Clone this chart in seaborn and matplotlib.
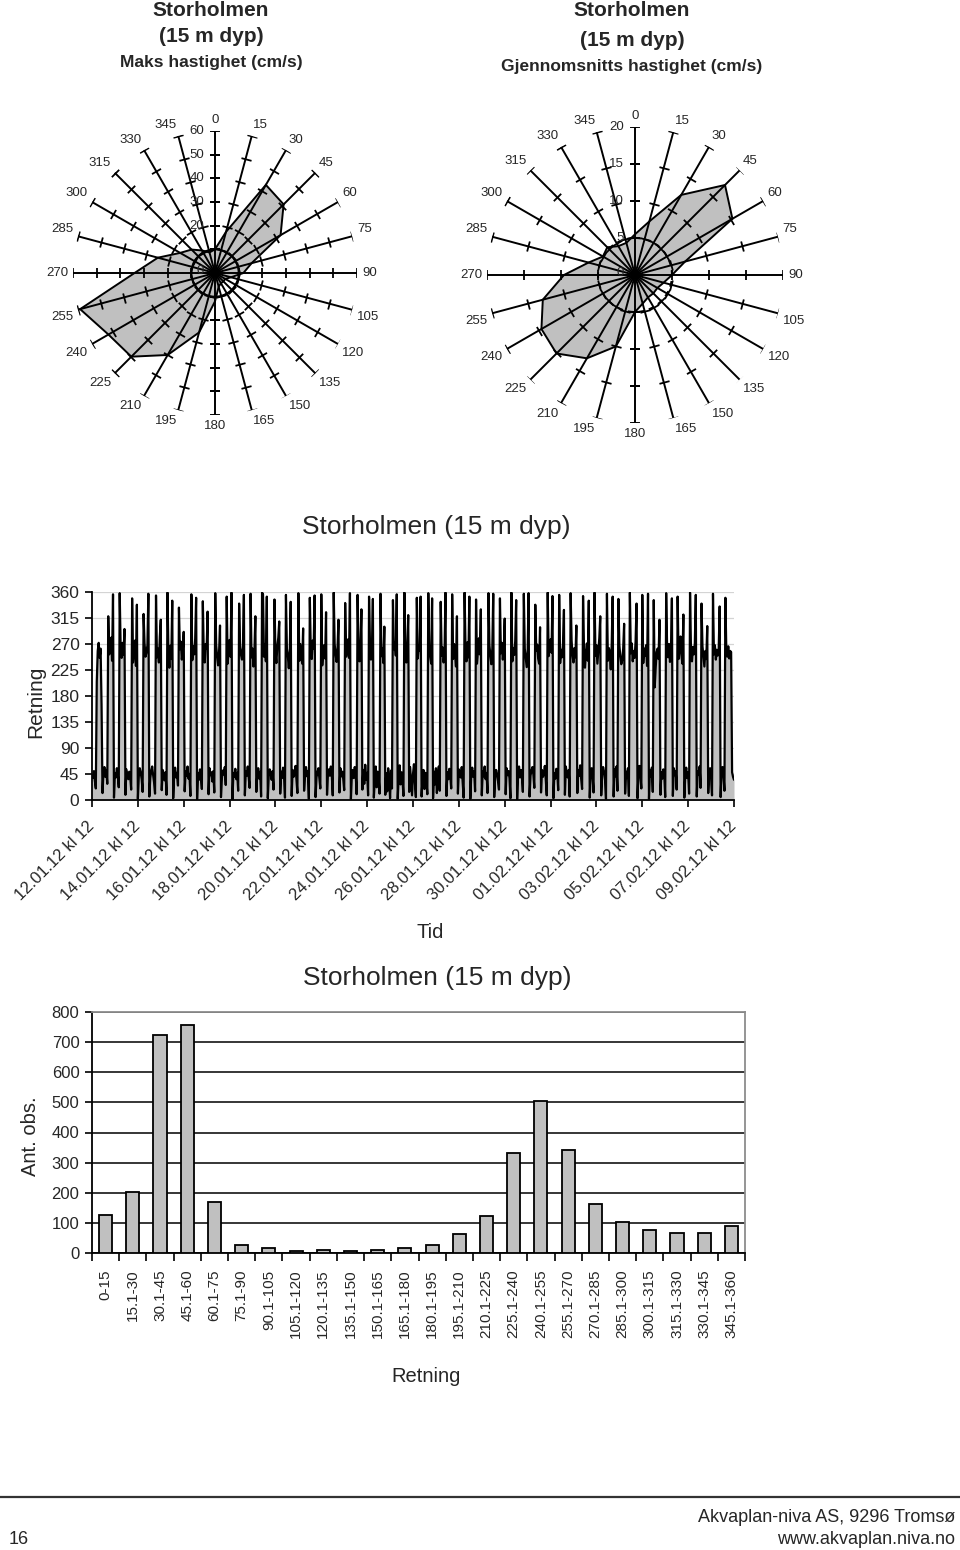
import numpy as np
import pandas as pd
import matplotlib
matplotlib.use("Agg")
import matplotlib.pyplot as plt
from matplotlib.lines import Line2D
import seaborn as sns

# ---------------- data ----------------
directions_deg = list(range(0, 360, 15))
max_speed = [10, 18, 43, 41, 32, 16, 12, 7, 5, 5, 5, 6,
             12, 26, 40, 50, 52, 59, 34, 25, 17, 14, 11, 9]
mean_speed = [5.5, 7.5, 12.5, 17.2, 15.2, 7, 5, 4, 3.5, 3.5, 3.5, 4,
              5, 10, 13, 15, 14.6, 12.9, 9.6, 6.5, 5, 5.3, 4.5, 4.5]
max_speed_rings = [10, 20, 30, 40, 50, 60]
mean_speed_rings = [5, 10, 15, 20]
max_speed_labels = [0, 20, 30, 40, 50, 60]
mean_speed_labels = [0, 5, 10, 15, 20]

# hourly current direction (degrees), 12.01.12 kl 12 -> 09.02.12 kl 12
dir_part1 = [
    42, 38, 50, 33, 20, 205, 258, 272, 246, 262, 165,
    12, 48, 57, 40, 52, 28, 318, 252, 264, 281, 241, 356,
    4, 46, 39, 55, 44, 22, 358, 263, 246, 272, 251, 296,
    9, 53, 44, 36, 49, 41, 18, 349, 238, 257, 276, 232, 338,
    2, 41, 55, 47, 36, 14, 322, 271, 248, 255, 268, 357,
    6, 38, 50, 58, 43, 30, 11, 354, 247, 262, 238, 283, 312,
    17, 52, 45, 34, 48, 9, 359, 256, 229, 267, 244, 345,
    3, 44, 56, 39, 47, 25, 333, 261, 274, 243, 258, 291,
    15, 49, 42, 58, 37, 45, 7, 356, 242, 266, 252, 279, 350,
    1, 47, 35, 53, 41, 19, 344, 253, 238, 270, 262, 326,
    10, 55, 43, 48, 32, 50, 13, 358, 268, 247, 233, 256, 302,
    5, 38, 51, 44, 57, 26, 352, 236, 259, 277, 248, 359,
    0, 46, 40, 54, 36, 47, 16, 340, 264, 251, 243, 269, 355,
    8, 50, 42, 58, 39, 21, 357, 247, 262, 231, 258, 318,
    14, 44, 55, 37, 49, 6, 359, 356, 248, 270, 240, 352,
    3, 41, 53, 46, 35, 50, 18, 347, 255, 237, 266, 281, 309,
    11, 49, 38, 56, 43, 4, 355, 262, 249, 228, 258, 343,
    7, 52, 40, 47, 59, 36, 12, 358, 241, 270, 252, 236, 297,
    16, 45, 57, 41, 50, 2, 350, 259, 244, 276, 262, 354,
    5, 39, 48, 55, 37, 20, 356, 233, 257, 268, 245, 325,
    9, 47, 53, 42, 58, 44, 8, 359, 270, 251, 239, 264, 312,
    13, 55, 41, 49, 36, 17, 341, 248, 262, 278, 246, 358,
    1, 43, 52, 38, 57, 46, 10,
]
dir_part2 = [
    355, 258, 240, 266, 330, 18, 52, 28, 61, 35, 47, 8,
    352, 268, 243, 255, 348, 4, 35, 58, 22, 49, 40, 11,
    357, 249, 262, 237, 300, 9, 46, 15, 55, 38, 3, 51, 20,
    346, 261, 272, 250, 356, 2, 40, 60, 27, 48, 36, 7,
    359, 253, 238, 264, 320, 14, 57, 33, 8, 45, 62, 30, 5,
    350, 245, 267, 258, 352, 6, 38, 52, 19, 47, 33, 10,
    358, 262, 248, 236, 349, 3, 49, 27, 55, 12, 43, 58, 16,
]
dir_part3 = [
    343, 250, 264, 238, 255, 359, 7, 48, 36, 54, 42, 20,
    356, 244, 270, 252, 231, 318, 11, 53, 45, 39, 57, 31, 4,
    359, 261, 240, 273, 247, 352, 2, 44, 56, 40, 50, 15,
    347, 236, 258, 280, 252, 330, 8, 50, 41, 58, 36, 46, 12,
    358, 268, 249, 235, 262, 357, 5, 39, 52, 45, 33, 18,
    349, 254, 272, 243, 258, 314, 10, 55, 43, 50, 38, 3,
    359, 240, 263, 251, 275, 346, 1, 47, 58, 39, 52, 42, 14,
    357, 262, 246, 230, 257, 358, 6, 42, 51, 57, 44, 21,
    338, 258, 269, 245, 236, 299, 13, 52, 40, 46, 59, 35, 8,
    359, 249, 265, 278, 255, 353, 3, 46, 37, 54, 48, 17,
    355, 237, 260, 247, 271, 329, 9, 58, 45, 39, 52, 6,
]
dir_part4 = [
    358, 276, 250, 238, 263, 247, 302, 12, 51, 42, 60, 37, 19,
    353, 262, 229, 254, 271, 241, 345, 4, 47, 55, 40, 13,
    359, 250, 268, 236, 259, 280, 318, 8, 44, 57, 49, 35, 2,
    357, 241, 263, 255, 226, 270, 352, 6, 53, 41, 58, 16,
    348, 268, 249, 235, 242, 262, 305, 11, 49, 38, 55, 7,
    359, 254, 271, 240, 258, 246, 275, 340, 3, 45, 59, 42, 20,
    355, 237, 262, 250, 268, 232, 357, 2, 51, 40, 56, 14,
    346, 195, 228, 256, 262, 244, 312, 9, 48, 37, 53, 45, 5,
    358, 263, 247, 270, 239, 258, 349, 7, 55, 43, 50, 18,
    352, 244, 262, 283, 250, 236, 321, 4, 42, 56, 38, 48, 11,
    359, 257, 240, 265, 252, 271, 355, 6, 50, 44, 58, 21,
    340, 266, 249, 231, 258, 244, 301, 12, 46, 55, 39, 8,
    357, 252, 268, 243, 260, 250, 262, 335, 5, 48, 57, 43, 16,
    350, 255, 248, 266, 245, 258, 256, 48, 40, 35,
]
series_start = "2012-01-12 12:00"
time_tick_labels = ["12.01.12 kl 12", "14.01.12 kl 12", "16.01.12 kl 12",
                    "18.01.12 kl 12", "20.01.12 kl 12", "22.01.12 kl 12",
                    "24.01.12 kl 12", "26.01.12 kl 12", "28.01.12 kl 12",
                    "30.01.12 kl 12", "01.02.12 kl 12", "03.02.12 kl 12",
                    "05.02.12 kl 12", "07.02.12 kl 12", "09.02.12 kl 12"]
dir_ticks = [0, 45, 90, 135, 180, 225, 270, 315, 360]

bin_labels = ["0-15", "15.1-30", "30.1-45", "45.1-60", "60.1-75", "75.1-90",
              "90.1-105", "105.1-120", "120.1-135", "135.1-150", "150.1-165",
              "165.1-180", "180.1-195", "195.1-210", "210.1-225", "225.1-240",
              "240.1-255", "255.1-270", "270.1-285", "285.1-300", "300.1-315",
              "315.1-330", "330.1-345", "345.1-360"]
bin_counts = [125, 204, 725, 756, 168, 28, 18, 7, 11, 7, 11, 18,
              28, 64, 124, 332, 504, 342, 161, 104, 78, 68, 68, 88]
count_ticks = [0, 100, 200, 300, 400, 500, 600, 700, 800]

# ---------------- style ----------------
sns.set_theme(style="ticks")
plt.rcParams["font.family"] = ["Liberation Sans", "DejaVu Sans"]
plt.rcParams["axes.unicode_minus"] = False
FILL = "#c0c0c0"
W, H = 960, 1550
fig = plt.figure(figsize=(9.6, 15.5), dpi=100)


def fx(px):
    return px / W


def fy(py):
    return 1 - py / H


# ---------------- rose charts ----------------
def draw_rose(rect, values, rmax, rings, labels, ring_r, ring_ls):
    ax = fig.add_axes(rect, projection="polar")
    ax.set_theta_zero_location("N")
    ax.set_theta_direction(-1)
    ax.set_ylim(0, rmax)
    ax.grid(False)
    ax.set_xticks([])
    ax.set_yticks([])
    ax.spines["polar"].set_visible(False)
    ax.set_facecolor("none")
    theta = np.deg2rad(directions_deg)
    th_c = np.append(theta, theta[0])
    v_c = np.append(values, values[0])
    ax.fill(th_c, v_c, facecolor=FILL, edgecolor="black", lw=1.4, zorder=1)
    for d, th in zip(directions_deg, theta):
        ax.plot([th, th], [0, rmax], color="black", lw=1.4, zorder=3,
                solid_capstyle="butt")
        ax.plot([th] * len(rings), rings, linestyle="none",
                marker=(2, 0, 90 - d), ms=7.5, mec="black", mew=1.3, zorder=3)
        s, c = np.sin(th), np.cos(th)
        ha = "left" if s > 0.1 else ("right" if s < -0.1 else "center")
        va = "bottom" if c > 0.1 else ("top" if c < -0.1 else "center")
        ax.annotate(str(d), xy=(th, rmax), xytext=(5 * s, 5 * c),
                    textcoords="offset pixels", ha=ha, va=va, fontsize=9.5,
                    annotation_clip=False)
    circ_t = np.linspace(0, 2 * np.pi, 240)
    ax.plot(circ_t, np.full_like(circ_t, ring_r), color="black", lw=1.4,
            ls=ring_ls, zorder=3)
    for v in labels:
        ax.annotate(str(v), xy=(0, v), xytext=(-11, 0 if v else 2),
                    textcoords="offset pixels", ha="right", va="center",
                    fontsize=9.5, zorder=4, annotation_clip=False)
    return ax


draw_rose([fx(73), fy(415), fx(284), 284 / H], max_speed, 60,
          max_speed_rings, max_speed_labels, 10, "-")
draw_rose([fx(487), fy(423), fx(296), 296 / H], mean_speed, 20,
          mean_speed_rings, mean_speed_labels, 5, (0, (3, 2.5)))

fig.text(fx(211), fy(11), "Storholmen", ha="center", va="center",
         fontsize=15, fontweight="bold")
fig.text(fx(211), fy(37), "(15 m dyp)", ha="center", va="center",
         fontsize=15, fontweight="bold")
fig.text(fx(211), fy(62), "Maks hastighet (cm/s)", ha="center", va="center",
         fontsize=12.5, fontweight="bold")
fig.text(fx(632), fy(11), "Storholmen", ha="center", va="center",
         fontsize=15, fontweight="bold")
fig.text(fx(632), fy(40), "(15 m dyp)", ha="center", va="center",
         fontsize=15, fontweight="bold")
fig.text(fx(632), fy(66), "Gjennomsnitts hastighet (cm/s)", ha="center",
         va="center", fontsize=12.5, fontweight="bold")

# ---------------- time series ----------------
direction = dir_part1 + dir_part2 + dir_part3 + dir_part4
times = pd.date_range(series_start, periods=len(direction), freq="h")
tick_times = pd.to_datetime(time_tick_labels, format="%d.%m.%y kl %H")

ax2 = fig.add_axes([fx(92), fy(800), fx(642), 208 / H])
ax2.fill_between(times, direction, 0, color=FILL, lw=0, zorder=1)
sns.lineplot(x=times, y=direction, color="black", lw=1.6, ax=ax2, zorder=2)
ax2.set_xlim(tick_times[0], tick_times[-1])
ax2.set_ylim(0, 360)
ax2.set_yticks(dir_ticks)
ax2.set_yticklabels([str(v) for v in dir_ticks], fontsize=12.5)
ax2.set_xticks(tick_times)
ax2.set_xticklabels(time_tick_labels, rotation=45, ha="right", va="center",
                    rotation_mode="anchor", fontsize=12)
ax2.tick_params(axis="x", length=5, width=1.2, pad=12, color="black")
ax2.tick_params(axis="y", length=5, width=1.2, pad=4, color="black")
ax2.yaxis.grid(True, color="#d4d4d4", lw=0.9)
ax2.set_axisbelow(True)
for side in ["top", "right"]:
    ax2.spines[side].set_visible(False)
for side in ["left", "bottom"]:
    ax2.spines[side].set_color("black")
    ax2.spines[side].set_linewidth(1.3)
ax2.set_ylabel("Retning", fontsize=15, va="center", ha="center")
ax2.yaxis.set_label_coords((36 - 92) / 642, (800 - 702) / 208)
ax2.set_xlabel("Tid", fontsize=14.5, va="center", ha="center")
ax2.xaxis.set_label_coords((430 - 92) / 642, (800 - 933) / 208)
fig.text(fx(436), fy(527), "Storholmen (15 m dyp)", ha="center",
         va="center", fontsize=19)

# ---------------- histogram bars ----------------
ax3 = fig.add_axes([fx(92), fy(1253), fx(653), 241 / H])
sns.barplot(x=bin_labels, y=bin_counts, color=FILL, saturation=1,
            edgecolor="black", linewidth=1.3, width=0.48, ax=ax3, zorder=3)
ax3.set_xlim(-0.5, len(bin_labels) - 0.5)
ax3.set_ylim(0, 800)
ax3.set_yticks(count_ticks)
ax3.set_yticklabels([str(v) for v in count_ticks], fontsize=12)
ax3.set_xticks(range(len(bin_labels)))
ax3.set_xticklabels(bin_labels, rotation=90, ha="center", va="top",
                    fontsize=11)
ax3.set_xticks(np.arange(-0.5, len(bin_labels), 1), minor=True)
ax3.tick_params(axis="x", which="major", length=0, pad=12)
ax3.tick_params(axis="x", which="minor", length=6, width=1.2, color="black")
ax3.tick_params(axis="y", length=5, width=1.2, pad=4, color="black")
ax3.yaxis.grid(True, color="black", lw=1.1)
ax3.set_axisbelow(True)
ax3.spines["left"].set_color("black")
ax3.spines["bottom"].set_color("black")
ax3.spines["left"].set_linewidth(1.3)
ax3.spines["bottom"].set_linewidth(1.3)
ax3.spines["top"].set_color("#8c8c8c")
ax3.spines["right"].set_color("#8c8c8c")
ax3.spines["top"].set_linewidth(1.3)
ax3.spines["right"].set_linewidth(1.3)
ax3.set_ylabel("Ant. obs.", fontsize=14.5, va="center", ha="center")
ax3.yaxis.set_label_coords((30 - 92) / 653, (1253 - 1136) / 241)
ax3.set_xlabel("Retning", fontsize=14.5, va="center", ha="center")
ax3.xaxis.set_label_coords((426 - 92) / 653, (1253 - 1377) / 241)
fig.text(fx(437), fy(978), "Storholmen (15 m dyp)", ha="center",
         va="center", fontsize=19)

# ---------------- footer ----------------
fig.add_artist(Line2D([0.0, 1.0], [fy(1497), fy(1497)], color="#333333",
                      lw=1.6))
fig.text(fx(955), fy(1518), "Akvaplan-niva AS, 9296 Tromsø", ha="right",
         va="center", fontsize=13)
fig.text(fx(955), fy(1540), "www.akvaplan.niva.no", ha="right",
         va="center", fontsize=13)
fig.text(fx(9), fy(1539), "16", ha="left", va="center", fontsize=13)

fig.savefig("out.png", dpi=100)
